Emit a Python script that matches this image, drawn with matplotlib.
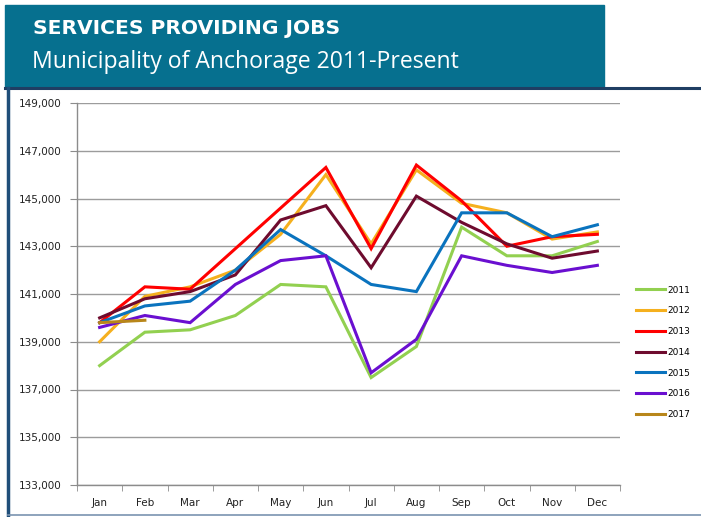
import matplotlib.pyplot as plt
from matplotlib.patches import Rectangle
from matplotlib.lines import Line2D
from matplotlib.ticker import FuncFormatter, FixedLocator

months = ['Jan', 'Feb', 'Mar', 'Apr', 'May', 'Jun',
          'Jul', 'Aug', 'Sep', 'Oct', 'Nov', 'Dec']

jobs_2011 = [138000, 139400, 139500, 140100, 141400, 141300,
             137500, 138800, 143800, 142600, 142600, 143200]
jobs_2012 = [139000, 140900, 141300, 142000, 143500, 146000,
             143100, 146200, 144800, 144400, 143300, 143600]
jobs_2013 = [139800, 141300, 141200, 142900, 144600, 146300,
             142900, 146400, 144900, 143000, 143400, 143500]
jobs_2014 = [140000, 140800, 141100, 141800, 144100, 144700,
             142100, 145100, 144000, 143100, 142500, 142800]
jobs_2015 = [139800, 140500, 140700, 142000, 143700, 142600,
             141400, 141100, 144400, 144400, 143400, 143900]
jobs_2016 = [139600, 140100, 139800, 141400, 142400, 142600,
             137700, 139100, 142600, 142200, 141900, 142200]
jobs_2017 = [139800, 139900]

years = ['2011', '2012', '2013', '2014', '2015', '2016', '2017']
colors = ['#92D050', '#F5B01E', '#FF0000', '#6E0B2E', '#0A73BE', '#6A0FD0', '#B8861A']
series = [jobs_2011, jobs_2012, jobs_2013, jobs_2014, jobs_2015, jobs_2016, jobs_2017]

W, H = 701, 517
fig = plt.figure(figsize=(W / 100, H / 100), dpi=100)
fig.patch.set_facecolor('white')

# title banner
fig.patches.append(Rectangle((5 / W, 1 - 87 / H), 599 / W, 82 / H,
                             transform=fig.transFigure, color='#06708F', zorder=0))
fig.text(33 / W, 1 - 28 / H, 'SERVICES PROVIDING JOBS', color='white',
         fontsize=14.6, fontweight='bold', family='DejaVu Sans', va='center')
fig.text(32 / W, 1 - 62 / H, 'Municipality of Anchorage 2011-Present', color='white',
         fontsize=16.6, family='Open Sans', va='center')

# chart frame
fig.add_artist(Line2D([5 / W, 1], [1 - 87.5 / H] * 2, transform=fig.transFigure,
                      color='#1F3E63', lw=2.2))
fig.add_artist(Line2D([8 / W] * 2, [1 - 88 / H, 1 - 515 / H], transform=fig.transFigure,
                      color='#1F4E79', lw=2.5))
fig.add_artist(Line2D([8 / W, 1], [1 - 515 / H] * 2, transform=fig.transFigure,
                      color='#7A93B0', lw=1.2))

ax = fig.add_axes([77 / W, 1 - 485 / H, 543 / W, 382 / H])
x = list(range(len(months)))
for yr, c, vals in zip(years, colors, series):
    ax.plot(x[:len(vals)], vals, color=c, lw=2.2, label=yr,
            solid_joinstyle='miter', zorder=3)

ax.set_xlim(-0.5, 11.5)
ax.set_ylim(133000, 149000)
ax.set_yticks(range(133000, 149001, 2000))
ax.yaxis.set_major_formatter(FuncFormatter(lambda v, p: f'{int(v):,}'))
ax.set_xticks(x)
ax.set_xticklabels(months)
ax.xaxis.set_minor_locator(FixedLocator([i + 0.5 for i in range(-1, 12)]))
ax.tick_params(axis='x', which='major', length=0, pad=9, labelsize=7.5, colors='#222222')
ax.tick_params(axis='x', which='minor', length=4, color='#8c8c8c', direction='out')
ax.tick_params(axis='y', length=5, color='#8c8c8c', pad=6, labelsize=7.5, labelcolor='#222222')
ax.grid(axis='y', color='#9c9c9c', lw=1)
ax.set_axisbelow(True)
for s in ['top', 'right']:
    ax.spines[s].set_visible(False)
for s in ['left', 'bottom']:
    ax.spines[s].set_color('#8c8c8c')
    ax.spines[s].set_linewidth(1)

fig.legend(loc='upper left', bbox_to_anchor=(632 / W, 1 - 282 / H), frameon=False,
           fontsize=6.5, handlelength=3.2, handletextpad=0.3, labelspacing=1.3,
           borderaxespad=0)

fig.savefig('out.png', dpi=100)
